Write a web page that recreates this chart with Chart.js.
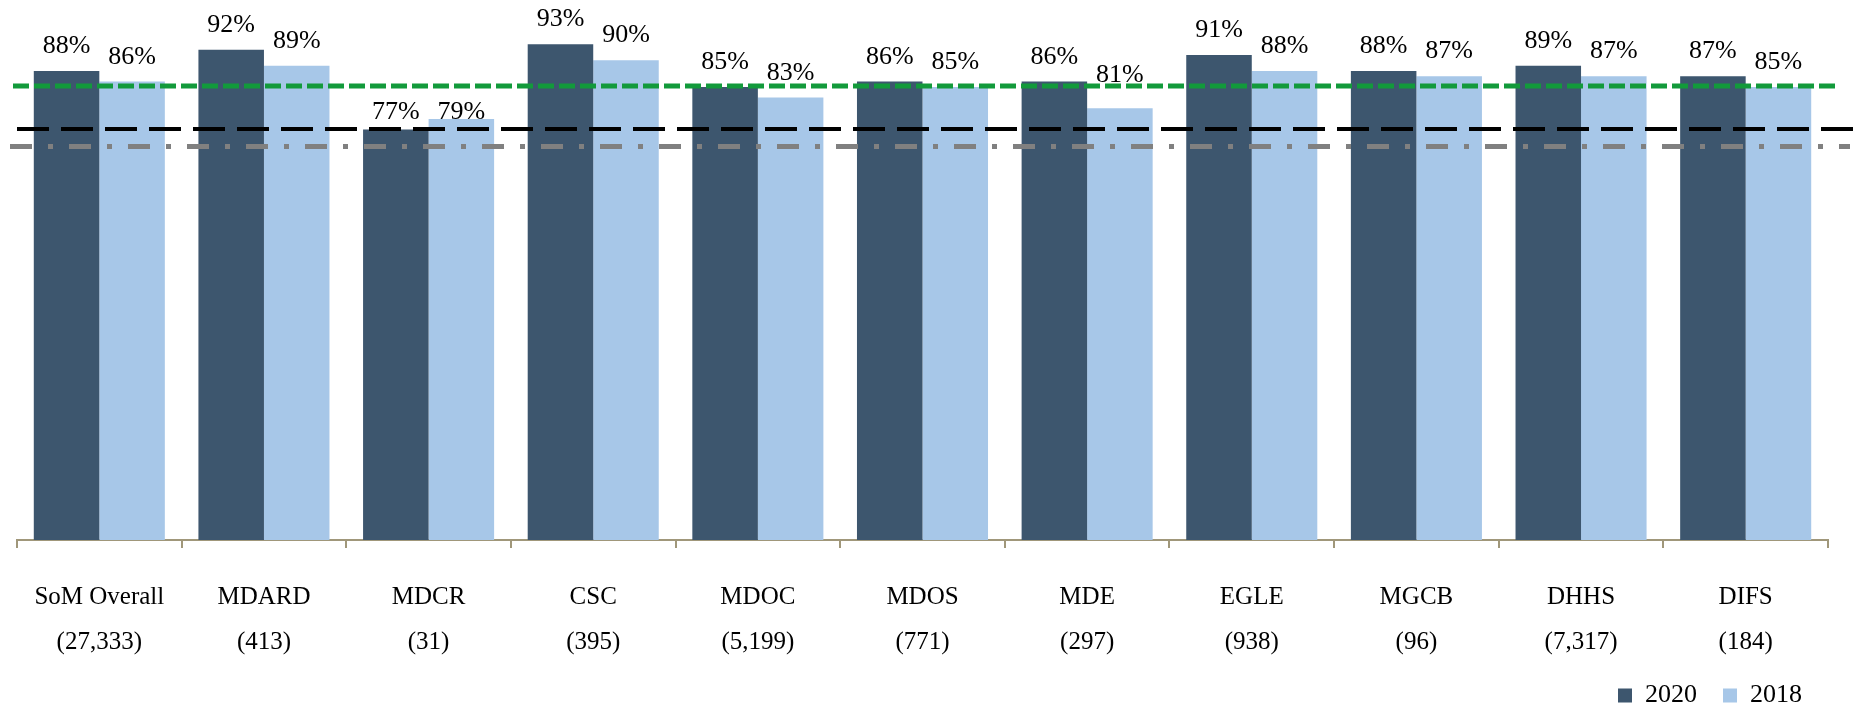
<!DOCTYPE html>
<html>
<head>
<meta charset="utf-8">
<title>Survey results by department, 2020 vs 2018</title>
<script src="https://cdn.jsdelivr.net/npm/chart.js@4/dist/chart.umd.min.js"></script>
<style>
  html, body { margin: 0; padding: 0; background: #ffffff; }
  #wrap { width: 1856px; height: 709px; position: relative; }
</style>
</head>
<body>
<div id="wrap"><canvas id="chart"></canvas></div>
<script>
// Departments and respondent counts
const departments = ['SoM Overall', 'MDARD', 'MDCR', 'CSC', 'MDOC', 'MDOS', 'MDE', 'EGLE', 'MGCB', 'DHHS', 'DIFS'];
const respondents = ['27,333', '413', '31', '395', '5,199', '771', '297', '938', '96', '7,317', '184'];

// Percent favourable by year
const values2020 = [88, 92, 77, 93, 85, 86, 86, 91, 88, 89, 87];
const values2018 = [86, 89, 79, 90, 83, 85, 81, 88, 87, 87, 85];

// Benchmark lines (percent)
const benchmarkNames = ['Benchmark A', 'Benchmark B', 'Benchmark C'];
const benchmarkValues = [85.2, 77.1, 73.85];

const FONT = "'Liberation Serif', 'DejaVu Serif', serif";
const AXIS_TAN = '#A0977A';

// Value labels above each bar
const barValueLabels = {
  id: 'barValueLabels',
  afterDatasetsDraw(chart, args, opts) {
    const ctx = chart.ctx;
    ctx.save();
    ctx.font = opts.size + 'px ' + FONT;
    ctx.fillStyle = opts.color;
    ctx.textAlign = 'center';
    ctx.textBaseline = 'alphabetic';
    chart.data.datasets.forEach((ds, di) => {
      const meta = chart.getDatasetMeta(di);
      meta.data.forEach((bar, i) => {
        const key = chart.data.labels[i][0] + '|' + ds.label;
        const nudge = (opts.nudge && opts.nudge[key]) || 0;
        ctx.fillText(ds.data[i] + '%', bar.x, bar.y - opts.gap + nudge);
      });
    });
    ctx.restore();
  }
};

// Horizontal benchmark lines across the plot
const benchmarkLines = {
  id: 'benchmarkLines',
  afterDatasetsDraw(chart, args, opts) {
    const ctx = chart.ctx;
    const y = chart.scales.y;
    const area = chart.chartArea;
    ctx.save();
    opts.lines.forEach((ln, i) => {
      const py = y.getPixelForValue(benchmarkValues[i]);
      ctx.beginPath();
      ctx.strokeStyle = ln.color;
      ctx.lineWidth = ln.width;
      ctx.setLineDash(ln.dash);
      ctx.moveTo(area.left + ln.start, py);
      ctx.lineTo(area.right + ln.end, py);
      ctx.stroke();
    });
    ctx.restore();
  }
};

new Chart(document.getElementById('chart'), {
  type: 'bar',
  data: {
    labels: departments.map((d, i) => [d, '(' + respondents[i] + ')']),
    datasets: [
      { label: '2020', data: values2020, backgroundColor: '#3D566E', borderWidth: 0,
        categoryPercentage: 0.796, barPercentage: 1.0 },
      { label: '2018', data: values2018, backgroundColor: '#A7C7E8', borderWidth: 0,
        categoryPercentage: 0.796, barPercentage: 1.0 }
    ]
  },
  options: {
    responsive: true,
    maintainAspectRatio: false,
    animation: false,
    layout: { padding: { left: 17, right: 28, top: 7, bottom: -9.5 } },
    scales: {
      x: {
        grid: { display: true, drawOnChartArea: false, drawTicks: true, tickLength: 8,
                color: AXIS_TAN, lineWidth: 2, offset: true },
        border: { display: true, color: AXIS_TAN, width: 2 },
        ticks: { color: '#000', padding: 26.5, maxRotation: 0, autoSkip: false,
                 font: { family: FONT, size: 25, lineHeight: 1.8 } },
        afterFit(scale) { scale.height = 116.5; }
      },
      y: { display: false, min: 0, max: 100 }
    },
    plugins: {
      legend: {
        position: 'bottom',
        align: 'end',
        labels: { boxWidth: 14, boxHeight: 14, padding: 26, color: '#000',
                  font: { family: FONT, size: 26, lineHeight: 1.0 } }
      },
      tooltip: { enabled: false },
      barValueLabels: { size: 26, color: '#000', gap: 18,
                        nudge: { 'MDCR|2020': 7, 'MDCR|2018': 18, 'MDE|2018': -8 } },
      benchmarkLines: {
        lines: [
          { color: '#129A3B', width: 5, dash: [16, 5], start: -4, end: 9 },
          { color: '#000000', width: 4, dash: [32, 12], start: 0, end: 28 },
          { color: '#808080', width: 5, dash: [22, 16, 5, 16], start: -7, end: 22 }
        ]
      }
    }
  },
  plugins: [barValueLabels, benchmarkLines]
});
</script>
</body>
</html>
